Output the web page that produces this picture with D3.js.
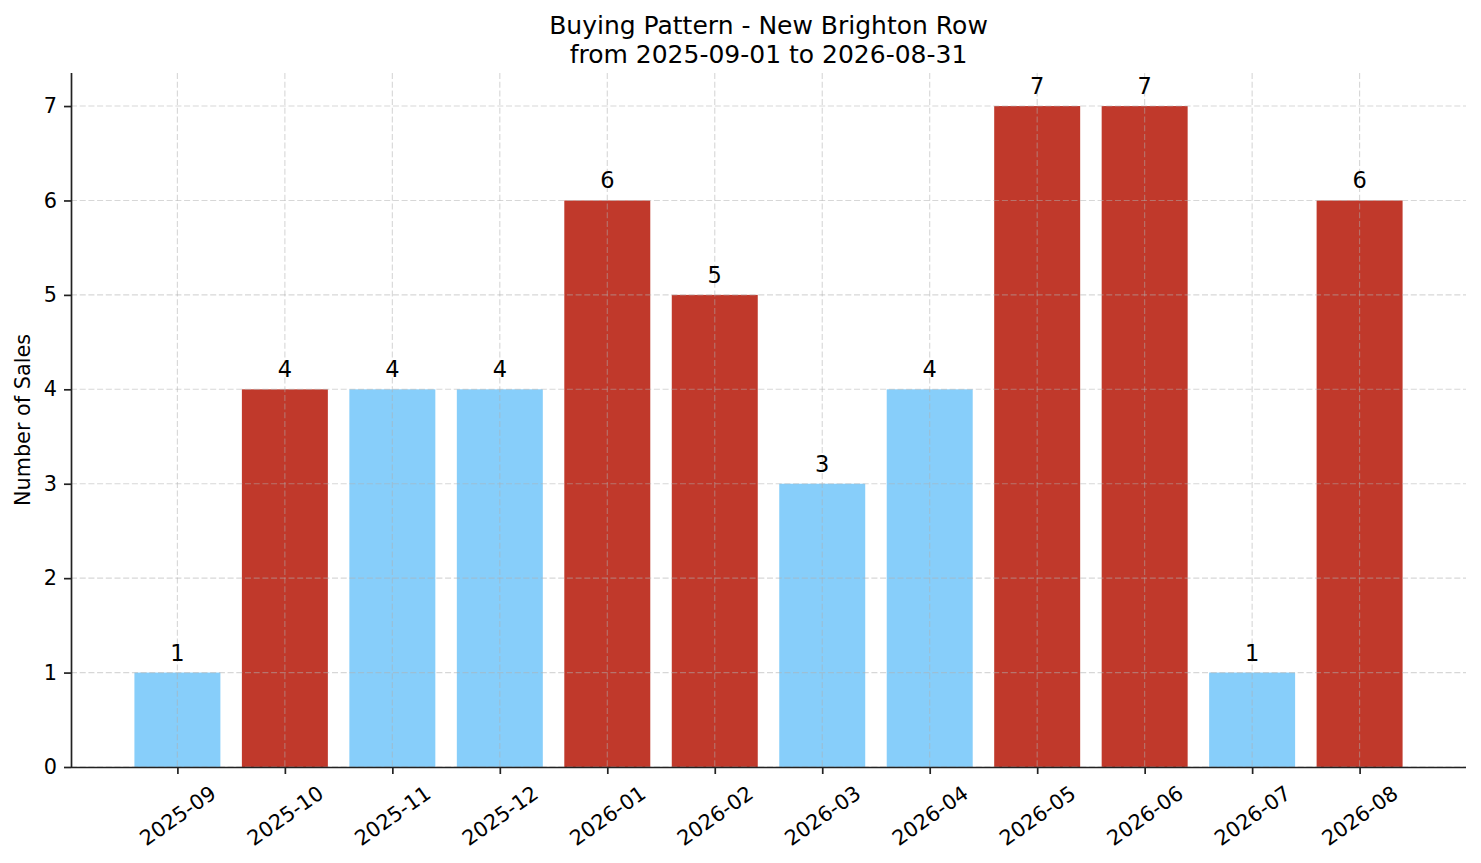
<!DOCTYPE html>
<html>
<head>
<meta charset="utf-8">
<script src="https://cdn.jsdelivr.net/npm/d3@7"></script>
<style>
  html, body { margin: 0; padding: 0; background: #fff; }
  svg { display: block; font-family: "DejaVu Sans", sans-serif; }
</style>
</head>
<body>
<svg id="chart" width="1481" height="863"></svg>
<script>
const titleLines = ["Buying Pattern - New Brighton Row", "from 2025-09-01 to 2026-08-31"];
const yLabel = "Number of Sales";
const months = ["2025-09","2025-10","2025-11","2025-12","2026-01","2026-02","2026-03","2026-04","2026-05","2026-06","2026-07","2026-08"];
const sales = [1,4,4,4,6,5,3,4,7,7,1,6];
const highlighted = [false,true,false,false,true,true,false,false,true,true,false,true];
const yTicks = [0,1,2,3,4,5,6,7];

const COLOR_HI = "#C0392B", COLOR_LO = "#87CEFA";
const m = {left: 71, right: 1466, top: 73, bottom: 767};
const TICK_FS = 20.8, LABEL_FS = 20.8, TITLE_FS = 25, BAR_FS = 22.5;

const svg = d3.select("#chart");
const n = months.length;
const barW = 0.8;
const pad = (n - 1 + barW) * 0.05;
const x = d3.scaleLinear().domain([-barW/2 - pad, n - 1 + barW/2 + pad]).range([m.left, m.right]);
const y = d3.scaleLinear().domain([0, d3.max(sales) * 1.05]).range([m.bottom, m.top]);

// bars
svg.append("g").selectAll("rect").data(sales).join("rect")
  .attr("x", (d, i) => x(i - barW/2))
  .attr("width", (d, i) => x(i + barW/2) - x(i - barW/2))
  .attr("y", d => y(d))
  .attr("height", d => y(0) - y(d))
  .attr("fill", (d, i) => highlighted[i] ? COLOR_HI : COLOR_LO);

// grid (on top, translucent)
const grid = svg.append("g").attr("stroke", "#b0b0b0").attr("stroke-opacity", 0.5)
  .attr("stroke-width", 1.1).attr("stroke-dasharray", "6,2.7");
grid.selectAll("line.h").data(yTicks).join("line").attr("class", "h")
  .attr("x1", m.left).attr("x2", m.right).attr("y1", d => y(d)).attr("y2", d => y(d));
grid.selectAll("line.v").data(months).join("line").attr("class", "v")
  .attr("y1", m.top).attr("y2", m.bottom).attr("x1", (d, i) => x(i)).attr("x2", (d, i) => x(i));

// bar labels
svg.append("g").selectAll("text").data(sales).join("text")
  .attr("x", (d, i) => x(i)).attr("y", d => y(d) - 12)
  .attr("text-anchor", "middle").attr("font-size", BAR_FS).attr("fill", "#000")
  .text(d => d);

// y axis
const yAxis = svg.append("g").attr("transform", `translate(${m.left},0)`)
  .call(d3.axisLeft(y).tickValues(yTicks).tickFormat(d3.format("d")).tickSize(7).tickPadding(7));
yAxis.select(".domain").attr("d", `M0.5,${m.top}V${m.bottom}`).attr("stroke", "#222").attr("stroke-width", 1.7);
yAxis.selectAll(".tick line").attr("stroke", "#222").attr("stroke-width", 1.7);
yAxis.selectAll(".tick text").attr("font-size", TICK_FS).attr("fill", "#000").attr("font-family", "DejaVu Sans");

// x axis
const xAxis = svg.append("g").attr("transform", `translate(0,${m.bottom})`)
  .call(d3.axisBottom(x).tickValues(d3.range(n)).tickFormat(i => months[i]).tickSize(7).tickPadding(0));
xAxis.select(".domain").attr("d", `M${m.left},0.5H${m.right}`).attr("stroke", "#222").attr("stroke-width", 1.7);
xAxis.selectAll(".tick line").attr("stroke", "#222").attr("stroke-width", 1.7);
const ang = 35 * Math.PI / 180;
xAxis.selectAll(".tick text")
  .attr("font-size", TICK_FS).attr("fill", "#000").attr("font-family", "DejaVu Sans")
  .attr("text-anchor", "middle").attr("dy", null).attr("y", null)
  .attr("dominant-baseline", "central")
  .each(function() {
    const w = this.getComputedTextLength();
    const h = TICK_FS * 1.164;
    const bh = w * Math.sin(ang) + h * Math.cos(ang);
    d3.select(this).attr("transform", `translate(0,${14 + bh/2}) rotate(-35)`);
  });

// y label
svg.append("text")
  .attr("transform", `translate(30,${(m.top + m.bottom)/2}) rotate(-90)`)
  .attr("text-anchor", "middle").attr("font-size", LABEL_FS).attr("fill", "#000")
  .text(yLabel);

// title
svg.append("g").selectAll("text").data(titleLines).join("text")
  .attr("x", (m.left + m.right)/2).attr("y", (d, i) => 34 + i * 28.5)
  .attr("text-anchor", "middle").attr("font-size", TITLE_FS).attr("fill", "#000")
  .text(d => d);
</script>
</body>
</html>
